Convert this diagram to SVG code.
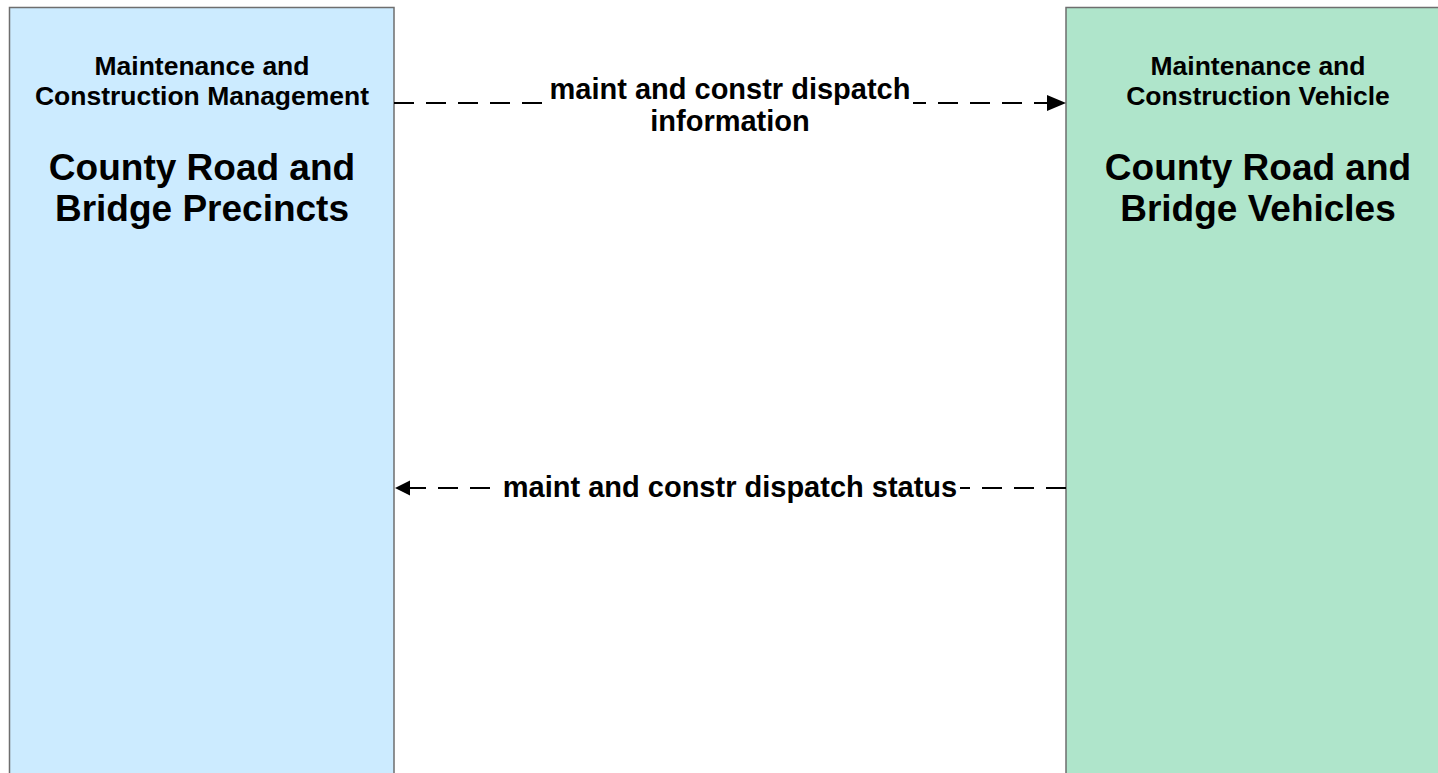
<svg xmlns="http://www.w3.org/2000/svg" width="1438" height="773" viewBox="0 0 1438 773">
  <style>
    .box { stroke: #6e6e6e; stroke-width: 1.5; }
    .hdr { font-family: "Liberation Sans", Arial, sans-serif; font-weight: bold; font-size: 26.5px; text-anchor: middle; fill: #000; }
    .ttl { font-family: "Liberation Sans", Arial, sans-serif; font-weight: bold; font-size: 37px; text-anchor: middle; fill: #000; }
    .lbl { font-family: "Liberation Sans", Arial, sans-serif; font-weight: bold; font-size: 29px; text-anchor: middle; fill: #000; }
    .flow { stroke: #000; stroke-width: 2; fill: none; stroke-dasharray: 20 12; }
    .head { fill: #000; }
  </style>
  <rect x="0" y="0" width="1438" height="773" fill="#ffffff"/>
  <g id="node-precincts">
    <rect class="box" x="9.5" y="7.5" width="384.5" height="800" fill="#CCEBFF"/>
    <text class="hdr" x="202" y="75">Maintenance and</text>
    <text class="hdr" x="202" y="105">Construction Management</text>
    <text class="ttl" x="202" y="180">County Road and</text>
    <text class="ttl" x="202" y="221">Bridge Precincts</text>
  </g>
  <g id="node-vehicles">
    <rect class="box" x="1066" y="7.5" width="385" height="800" fill="#AFE5CB"/>
    <text class="hdr" x="1258" y="75">Maintenance and</text>
    <text class="hdr" x="1258" y="105">Construction Vehicle</text>
    <text class="ttl" x="1258" y="180">County Road and</text>
    <text class="ttl" x="1258" y="221">Bridge Vehicles</text>
  </g>
  <g id="connectors">
    <g id="flow-dispatch-information">
      <path class="flow" d="M394 103 L1048 103"/>
      <polygon class="head" points="1066,103 1047,95 1047,111"/>
      <rect x="546" y="74" width="367" height="64" fill="#ffffff"/>
      <text class="lbl" x="730" y="99">maint and constr dispatch</text>
      <text class="lbl" x="730" y="131">information</text>
    </g>
    <g id="flow-dispatch-status">
      <path class="flow" d="M1066 488 L406 488"/>
      <polygon class="head" points="395,488 410,480.5 410,495.5"/>
      <rect x="498" y="474" width="462" height="30" fill="#ffffff"/>
      <text class="lbl" x="730" y="497">maint and constr dispatch status</text>
    </g>
  </g>
</svg>
